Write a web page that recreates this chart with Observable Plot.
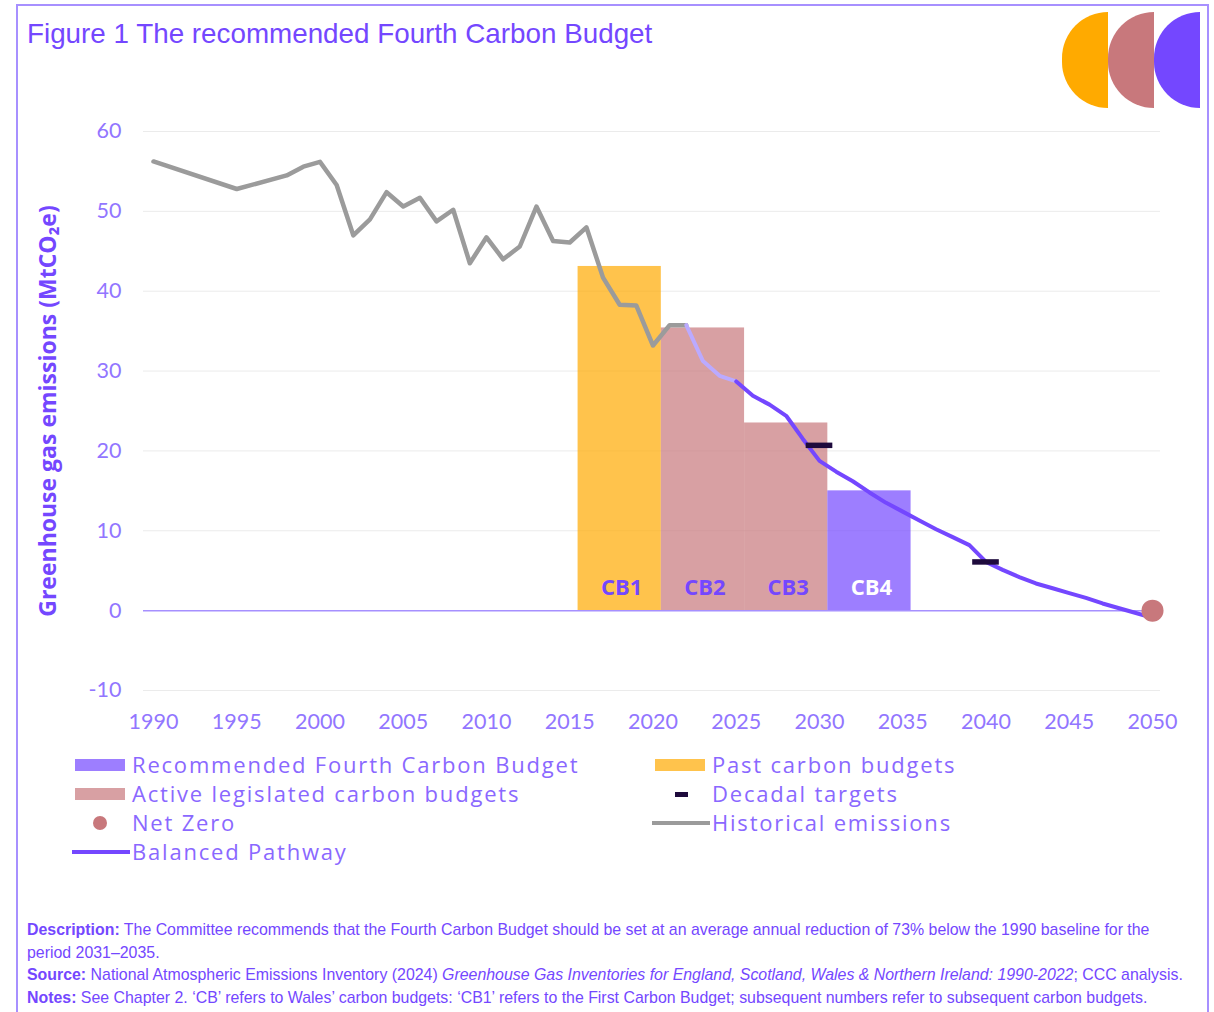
<!DOCTYPE html>
<html>
<head>
<meta charset="utf-8">
<script src="https://cdn.jsdelivr.net/npm/d3@7"></script>
<script src="https://cdn.jsdelivr.net/npm/@observablehq/plot@0.6"></script>
<style>
  html, body { margin: 0; padding: 0; background: #fff; }
  #page { position: relative; width: 1214px; height: 1012px; overflow: hidden; background: #fff; }
  #frame { position: absolute; left: 16px; top: 4px; width: 1193px; height: 1040px; border: 2px solid #A790FF; box-sizing: border-box; }
  #title { position: absolute; left: 27px; top: 18px; font-family: "Liberation Sans", Arial, sans-serif; font-size: 27.8px; color: #7447FF; white-space: nowrap; }
  .half { position: absolute; top: 12px; width: 46px; height: 96px; border-radius: 48px 0 0 48px; }
  #chart { position: absolute; left: 0; top: 100px; }
  .leg { position: absolute; font-family: "Open Sans", sans-serif; font-size: 22px; letter-spacing: 1.8px; color: #8A68FF; white-space: nowrap; line-height: 1; }
  .sw { position: absolute; }
  #foot { position: absolute; left: 27px; top: 919px; font-family: "Liberation Sans", Arial, sans-serif; font-size: 15.9px; line-height: 22.5px; color: #7447FF; }
  #foot p { margin: 0; white-space: nowrap; }
</style>
</head>
<body>
<div id="page">
  <div id="frame"></div>
  <div id="title">Figure 1 The recommended Fourth Carbon Budget</div>
  <div class="half" style="left:1062px;background:#FFAA00"></div>
  <div class="half" style="left:1108px;background:#C8787C"></div>
  <div class="half" style="left:1154px;background:#7447FF"></div>
  <div id="chart"></div>
  <div id="legend"></div>
  <div id="foot">
    <p><b>Description:</b> The Committee recommends that the Fourth Carbon Budget should be set at an average annual reduction of 73% below the 1990 baseline for the</p>
    <p>period 2031–2035.</p>
    <p><b>Source:</b> National Atmospheric Emissions Inventory (2024) <i>Greenhouse Gas Inventories for England, Scotland, Wales &amp; Northern Ireland: 1990-2022</i>; CCC analysis.</p>
    <p><b>Notes:</b> See Chapter 2. ‘CB’ refers to Wales’ carbon budgets: ‘CB1’ refers to the First Carbon Budget; subsequent numbers refer to subsequent carbon budgets.</p>
  </div>
</div>
<script>
// ---- data ----
const histYears  = [1990,1995,1998,1999,2000,2001,2002,2003,2004,2005,2006,2007,2008,2009,2010,2011,2012,2013,2014,2015,2016,2017,2018,2019,2020,2021,2022];
const histValues = [56.25,52.8,54.5,55.6,56.2,53.3,47.0,49.0,52.4,50.6,51.7,48.75,50.2,43.5,46.75,44.0,45.6,50.6,46.3,46.1,48.0,41.7,38.3,38.2,33.2,35.75,35.75];

const pathEarlyYears  = [2022,2023,2024,2025];
const pathEarlyValues = [35.75,31.25,29.4,28.7];

const pathYears  = [2025,2026,2027,2028,2029,2030,2031,2032,2033,2034,2035,2036,2037,2038,2039,2040,2041,2042,2043,2044,2045,2046,2047,2048,2049,2050];
const pathValues = [28.7,26.9,25.8,24.4,21.5,18.75,17.4,16.2,14.8,13.5,12.4,11.3,10.2,9.2,8.2,6.1,5.1,4.2,3.4,2.8,2.2,1.6,0.9,0.3,-0.3,-0.9];

const budgetNames  = ["CB1","CB2","CB3","CB4"];
const budgetStart  = [2016,2021,2026,2031];
const budgetEnd    = [2020,2025,2030,2035];
const budgetValues = [43.1,35.4,23.5,15.0];
const budgetTypes  = ["past","active","active","recommended"];

const decadalYears  = [2030,2040];
const decadalValues = [20.7,6.1];

const netZeroYear = 2050;
const netZeroValue = 0;

const xTicks = [1990,1995,2000,2005,2010,2015,2020,2025,2030,2035,2040,2045,2050];
const yTicks = [-10,0,10,20,30,40,50,60];
const yLabel = "Greenhouse gas emissions (MtCO₂e)";

// ---- tables ----
const hist = histYears.map((x,i)=>({x, y: histValues[i]}));
const early = pathEarlyYears.map((x,i)=>({x, y: pathEarlyValues[i]}));
const path = pathYears.map((x,i)=>({x, y: pathValues[i]}));
const budgets = budgetNames.map((name,i)=>({name, x1: budgetStart[i]-0.5, x2: budgetEnd[i]+0.5, y: budgetValues[i], type: budgetTypes[i]}));
const decadal = decadalYears.map((x,i)=>({x, y: decadalValues[i]}));

const fillOf = {past: "#FFAA00", active: "#C8787C", recommended: "#7447FF"};

const chart = Plot.plot({
  width: 1214, height: 640,
  marginLeft: 143, marginRight: 54, marginTop: 31, marginBottom: 50,
  style: {fontFamily: "Lato, sans-serif", fontSize: "21.5px", color: "#9276FF", background: "transparent", overflow: "visible"},
  x: {domain: [1989.4, 2050.48], ticks: xTicks, tickFormat: d => String(d), tickSize: 0, tickPadding: 23, label: null},
  y: {domain: [-10, 60], ticks: yTicks, tickFormat: d => String(d), tickSize: 0, tickPadding: 22, label: null},
  marks: [
    Plot.ruleY(yTicks.filter(d => d !== 0), {stroke: "#ebebeb", strokeWidth: 1}),
    Plot.rectY(budgets, {x1: "x1", x2: "x2", y1: 0, y2: "y", fill: d => fillOf[d.type], fillOpacity: 0.7}),
    Plot.ruleY([0], {stroke: "#A690FF", strokeWidth: 1.5}),
    Plot.text(budgets, {x: d => (d.x1 + d.x2) / 2, y: 0, dy: -23, dx: 2, text: "name", fill: d => d.type === "recommended" ? "#ffffff" : "#7447FF", fontWeight: "bold", fontSize: 22, fontFamily: "Open Sans, sans-serif"}),
    Plot.line(hist, {x: "x", y: "y", stroke: "#9B9B9B", strokeWidth: 4.5}),
    Plot.line(early, {x: "x", y: "y", stroke: "#BBAAFF", strokeWidth: 4}),
    Plot.line(path, {x: "x", y: "y", stroke: "#7447FF", strokeWidth: 4}),
    Plot.ruleY(decadal, {y: "y", x1: d => d.x - 0.8, x2: d => d.x + 0.8, stroke: "#1E0A3C", strokeWidth: 5.5}),
    Plot.dot([{x: netZeroYear, y: netZeroValue}], {x: "x", y: "y", r: 11, fill: "#C8787C"}),
    Plot.text([yLabel], {frameAnchor: "left", textAnchor: "middle", dx: -95, rotate: -90, fontSize: 23, fontWeight: "bold", fill: "#7447FF", fontFamily: "Open Sans, sans-serif"})
  ]
});
document.getElementById("chart").appendChild(chart);

// ---- legend ----
const legendItems = [
  {label: "Recommended Fourth Carbon Budget", col: 0, row: 0, kind: "rect", color: fillOf.recommended},
  {label: "Active legislated carbon budgets", col: 0, row: 1, kind: "rect", color: fillOf.active},
  {label: "Net Zero", col: 0, row: 2, kind: "dot", color: "#C8787C"},
  {label: "Balanced Pathway", col: 0, row: 3, kind: "line", color: "#7447FF"},
  {label: "Past carbon budgets", col: 1, row: 0, kind: "rect", color: fillOf.past},
  {label: "Decadal targets", col: 1, row: 1, kind: "dash", color: "#1E0A3C"},
  {label: "Historical emissions", col: 1, row: 2, kind: "line", color: "#9B9B9B"}
];
const leg = document.getElementById("legend");
legendItems.forEach(it => {
  const cy = 765 + it.row * 29;
  const sx = it.col === 0 ? 75 : 655;
  const tx = it.col === 0 ? 132 : 712;
  const s = document.createElement("div");
  s.className = "sw";
  if (it.kind === "rect") {
    Object.assign(s.style, {left: sx + "px", top: (cy - 6) + "px", width: "50px", height: "12px", background: it.color, opacity: 0.7});
  } else if (it.kind === "dot") {
    Object.assign(s.style, {left: (sx + 18) + "px", top: (cy - 7) + "px", width: "14px", height: "14px", borderRadius: "7px", background: it.color});
  } else if (it.kind === "line") {
    Object.assign(s.style, {left: (sx - 3) + "px", top: (cy - 2) + "px", width: "58px", height: "4px", background: it.color});
  } else {
    Object.assign(s.style, {left: (sx + 20) + "px", top: (cy - 2.5) + "px", width: "13px", height: "5px", background: it.color});
  }
  leg.appendChild(s);
  const t = document.createElement("div");
  t.className = "leg";
  t.textContent = it.label;
  Object.assign(t.style, {left: tx + "px", top: (cy - 12) + "px"});
  leg.appendChild(t);
});
</script>
</body>
</html>
